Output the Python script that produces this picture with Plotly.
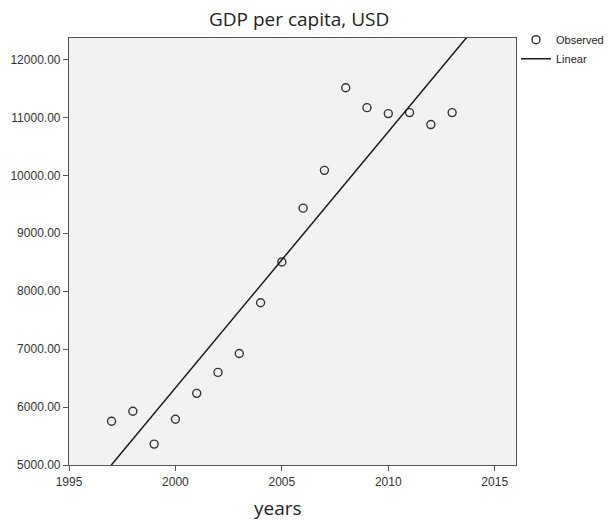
import numpy as np
import plotly.graph_objects as go

years = [1997, 1998, 1999, 2000, 2001, 2002, 2003, 2004, 2005, 2006, 2007, 2008, 2009, 2010, 2011, 2012, 2013]
gdp = [5756, 5928, 5361, 5790, 6237, 6598, 6924, 7800, 8505, 9433, 10086, 11512, 11168, 11065, 11082, 10876, 11082]
x_ticks = [1995, 2000, 2005, 2010, 2015]
y_ticks = [5000, 6000, 7000, 8000, 9000, 10000, 11000, 12000]

slope, intercept = np.polyfit(years, gdp, 1)
fit_x = [1995, 2016]
fit_y = [slope * v + intercept for v in fit_x]

fig = go.Figure()
fig.add_trace(go.Scatter(
    x=years, y=gdp, mode="markers", name="Observed",
    marker=dict(symbol="circle-open", size=8, color="#333333", line=dict(width=1.4, color="#333333")),
    cliponaxis=True,
))
fig.add_trace(go.Scatter(
    x=fit_x, y=fit_y, mode="lines", name="Linear",
    line=dict(color="#1a1a1a", width=1.5),
))

axis_common = dict(
    showgrid=False, zeroline=False, showline=True, linecolor="#555555", linewidth=1.2,
    mirror=True, ticks="outside", ticklen=5, tickcolor="#555555",
    tickfont=dict(family="Liberation Sans, Arial", size=12, color="#333333"),
)
fig.update_xaxes(range=[1995, 2016], tickvals=x_ticks, **axis_common)
fig.update_yaxes(range=[5000, 12370], tickvals=y_ticks, tickformat=".2f", **axis_common)

fig.add_annotation(text="years", xref="paper", yref="paper", x=0.4676, y=-0.1, xanchor="center",
                   yanchor="middle", showarrow=False,
                   font=dict(family="Open Sans", size=19, color="#222222"))

fig.update_layout(
    width=608, height=520,
    margin=dict(l=69, r=92, t=38, b=55, autoexpand=False),
    plot_bgcolor="#f2f2f2", paper_bgcolor="white",
    title=dict(text="GDP per capita, USD", x=0.492, xanchor="center", y=0.975, yanchor="top",
               font=dict(family="Open Sans", size=19, color="#222222")),
    legend=dict(x=1.0, y=1.03, xanchor="left", yanchor="top", bgcolor="rgba(0,0,0,0)",
                font=dict(family="Liberation Sans, Arial", size=11, color="#222222"),
                tracegroupgap=0, itemwidth=30),
    showlegend=True,
)

fig.write_html("out.html", config={"displayModeBar": False},
               post_script="document.body.style.margin='0';document.body.style.overflow='hidden';")
